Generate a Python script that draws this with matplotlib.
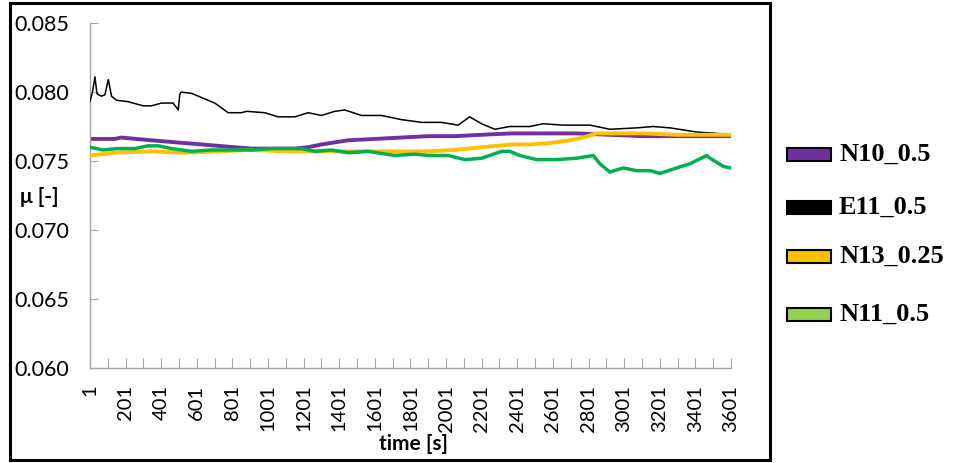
import numpy as np
import matplotlib
matplotlib.use("Agg")
from matplotlib import pyplot as plt
from matplotlib.patches import Rectangle

# values (time in s, friction coefficient)
t_e11 = [1, 15, 29, 40, 48, 66, 85, 104, 122, 150, 215, 300, 347, 403, 468, 497, 505, 512,
         572, 646, 702, 777, 852, 880, 983, 1058, 1152, 1226, 1301, 1376, 1432, 1526, 1638,
         1750, 1863, 1975, 2069, 2134, 2200, 2275, 2359, 2471, 2546, 2659, 2809, 2921, 3071,
         3165, 3259, 3409, 3521, 3601]
mu_e11 = [0.0793, 0.0800, 0.0811, 0.0799, 0.0798, 0.0797, 0.0798, 0.0809, 0.0797, 0.0794,
          0.0793, 0.0790, 0.0790, 0.0792, 0.0792, 0.0787, 0.0798, 0.0800, 0.0799, 0.0795,
          0.0792, 0.0785, 0.0785, 0.0786, 0.0785, 0.0782, 0.0782, 0.0785, 0.0783, 0.0786,
          0.0787, 0.0783, 0.0783, 0.0780, 0.0778, 0.0778, 0.0776, 0.0782, 0.0777, 0.0773,
          0.0775, 0.0775, 0.0777, 0.0776, 0.0776, 0.0773, 0.0774, 0.0775, 0.0774, 0.0771,
          0.0770, 0.0769]

t_n10 = [1, 140, 175, 347, 534, 720, 908, 1058, 1152, 1226, 1301, 1451, 1601, 1750, 1900,
         2050, 2200, 2369, 2546, 2734, 2921, 3109, 3296, 3484, 3601]
mu_n10 = [0.0766, 0.0766, 0.0767, 0.0765, 0.0763, 0.0761, 0.0759, 0.0759, 0.0759, 0.0760,
          0.0762, 0.0765, 0.0766, 0.0767, 0.0768, 0.0768, 0.0769, 0.0770, 0.0770, 0.0770,
          0.0769, 0.0768, 0.0768, 0.0768, 0.0768]

t_n13 = [1, 140, 347, 534, 720, 908, 1095, 1339, 1526, 1713, 1900, 2050, 2200, 2369, 2471,
         2584, 2696, 2771, 2846, 2959, 3109, 3296, 3484, 3601]
mu_n13 = [0.0754, 0.0756, 0.0757, 0.0756, 0.0757, 0.0758, 0.0757, 0.0757, 0.0757, 0.0757,
          0.0757, 0.0758, 0.0760, 0.0762, 0.0762, 0.0763, 0.0765, 0.0767, 0.0770, 0.0770,
          0.0770, 0.0769, 0.0769, 0.0769]

t_n11 = [1, 75, 150, 253, 328, 384, 459, 572, 684, 815, 908, 1021, 1189, 1264, 1357, 1451,
         1563, 1713, 1826, 1900, 2013, 2107, 2200, 2313, 2359, 2415, 2509, 2621, 2734, 2827,
         2865, 2921, 2996, 3071, 3146, 3203, 3296, 3371, 3465, 3484, 3559, 3601]
mu_n11 = [0.0760, 0.0758, 0.0759, 0.0759, 0.0761, 0.0761, 0.0759, 0.0757, 0.0758, 0.0758,
          0.0758, 0.0759, 0.0759, 0.0757, 0.0758, 0.0756, 0.0757, 0.0754, 0.0755, 0.0754,
          0.0754, 0.0751, 0.0752, 0.0757, 0.0757, 0.0754, 0.0751, 0.0751, 0.0752, 0.0754,
          0.0748, 0.0742, 0.0745, 0.0743, 0.0743, 0.0741, 0.0745, 0.0748, 0.0754, 0.0752,
          0.0746, 0.0745]

x_ticks = list(range(1, 3602, 100))
x_labels = [str(v) if (v - 1) % 200 == 0 else "" for v in x_ticks]
y_ticks = [0.060, 0.065, 0.070, 0.075, 0.080, 0.085]

legend_names = ["N10_0.5", "E11_0.5", "N13_0.25", "N11_0.5"]
legend_fill = ["#7030A0", "#000000", "#FFC000", "#92D050"]

fig = plt.figure(figsize=(9.55, 4.63), dpi=100)
ax = fig.add_axes([0.0942, 0.2052, 0.6712, 0.7451])

ax.plot(t_n10, mu_n10, color="#7030A0", lw=2.8, zorder=2)
ax.plot(t_e11, mu_e11, color="#000000", lw=1.1, zorder=3)
ax.plot(t_n13, mu_n13, color="#FFC000", lw=2.8, zorder=4)
ax.plot(t_n11, mu_n11, color="#00B050", lw=2.5, zorder=5)

ax.set_xlim(1, 3601)
ax.set_ylim(0.060, 0.085)

ax.set_xticks(x_ticks)
ax.set_xticklabels(x_labels, rotation=90, fontsize=14.5, family="Lato")
ax.set_yticks(y_ticks)
ax.set_yticklabels(["%.3f" % v for v in y_ticks], fontsize=15.5, family="Lato")
ax.tick_params(axis="x", direction="in", length=7, color="#A6A6A6", pad=12)
ax.tick_params(axis="y", direction="in", length=6, color="#A6A6A6", pad=15)

for s in ["top", "right"]:
    ax.spines[s].set_visible(False)
for s in ["left", "bottom"]:
    ax.spines[s].set_color("#A6A6A6")
    ax.spines[s].set_linewidth(1.0)

fig.text(413 / 955, 1 - 444 / 463, "time [s]", ha="center", va="center",
         fontsize=15, fontweight="bold", family="Lato")
fig.text(39 / 955, 1 - 197 / 463, "μ [-]", ha="center", va="center",
         fontsize=15, fontweight="bold", family="Lato")

# legend drawn by hand, entries are unevenly spaced in the reference
leg_y = [154, 207, 256, 314]
for name, fc, yy in zip(legend_names, legend_fill, leg_y):
    fig.patches.append(Rectangle((787 / 955, 1 - (yy + 7) / 463), 44 / 955, 13 / 463,
                                 transform=fig.transFigure, facecolor=fc,
                                 edgecolor="black", lw=1.5))
    fig.text(839 / 955, 1 - yy / 463, name, ha="left", va="center", fontsize=19,
             fontweight="bold", family="Liberation Serif")

# black frame around the plot area
fig.patches.append(Rectangle((10 / 955, 3 / 463), 760 / 955, 457 / 463,
                             transform=fig.transFigure, fill=False,
                             edgecolor="black", lw=2.2))

fig.savefig("out.png", dpi=100)
